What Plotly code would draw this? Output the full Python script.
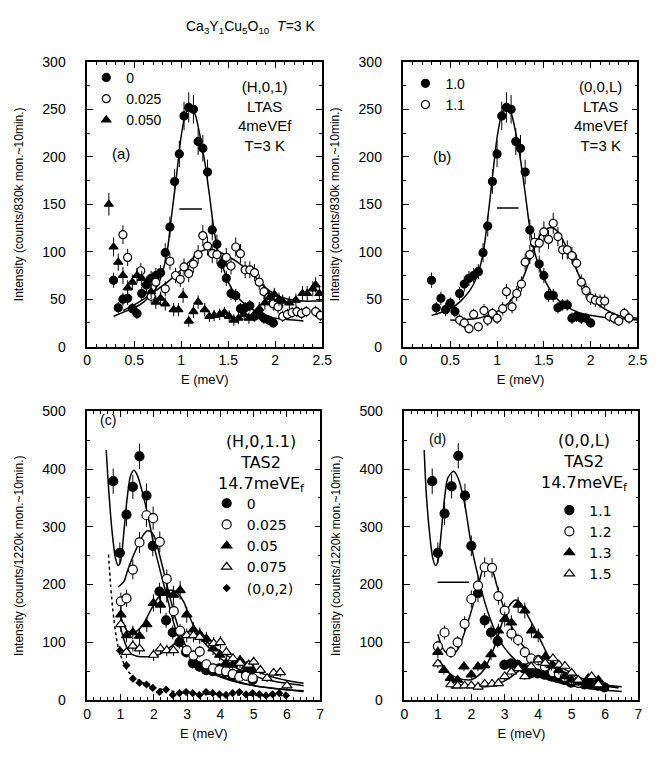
import plotly.graph_objects as go

W, H = 670, 758
F = "Liberation Sans, Arial, sans-serif"
FD = "DejaVu Sans, sans-serif"

def px2x(p): return p / W
def px2y(p): return 1 - p / H

# ---------------- Panel (a): (H,0,1) LTAS ----------------
a0_E = [0.28,0.33,0.38,0.43,0.48,0.53,0.58,0.63,0.68,0.73,0.78,0.83,0.88,0.93,0.98,1.03,1.08,1.13,1.18,1.23,1.28,1.33,1.38,1.43,1.48,1.53,1.58,1.63,1.68,1.73,1.78,1.83,1.88,1.93,1.98]
a0_I = [70,41,50,51,40,35,56,65,72,75,78,99,126,174,203,243,252,250,216,209,184,123,108,87,72,56,54,40,41,43,32,34,30,28,25]
a0_err = [8,6,7,7,6,6,7,8,8,8,8,10,11,13,14,15,16,15,14,14,13,11,10,9,8,7,7,6,6,6,6,6,6,5,5]

a1_E = [0.38,0.43,0.57,0.68,0.73,0.83,0.88,0.94,0.99,1.03,1.08,1.13,1.18,1.23,1.28,1.33,1.38,1.48,1.53,1.58,1.63,1.68,1.73,1.78,1.83,1.88,1.93,1.98,2.03,2.08,2.13,2.18,2.23,2.28,2.33,2.43,2.48]
a1_I = [118,94,80,53,68,61,90,75,71,84,77,87,97,117,106,98,97,94,85,105,98,81,81,78,68,58,52,45,42,32,34,36,37,35,37,37,33]
a1_err = [10,9,8,7,8,8,9,8,8,9,9,9,10,11,10,10,10,10,9,10,10,9,9,9,8,8,7,7,7,6,6,6,6,6,6,6,6]

a2_E = [0.23,0.28,0.33,0.38,0.43,0.48,0.53,0.58,0.63,0.68,0.73,0.78,0.83,0.92,0.97,1.02,1.08,1.13,1.18,1.25,1.3,1.35,1.41,1.46,1.51,1.56,1.61,1.67,1.72,1.77,1.83,1.89,1.94,1.99,2.04,2.08,2.15,2.22,2.29,2.34,2.4,2.43,2.47]
a2_I = [150,105,89,75,62,68,75,72,66,58,47,51,45,39,39,54,27,37,47,39,32,33,34,36,32,28,30,34,30,33,40,46,52,55,50,48,46,49,56,56,61,65,56]
a2_err = [12,10,9,9,8,8,8,8,8,8,7,7,7,7,7,8,6,7,7,7,6,6,6,6,6,6,6,6,6,6,7,7,7,7,7,7,7,7,8,8,8,8,8]

fa0_E = [0.28,0.4,0.5,0.6,0.7,0.75,0.8,0.85,0.9,0.95,1.0,1.05,1.1,1.15,1.2,1.25,1.3,1.35,1.4,1.45,1.5,1.6,1.7,1.8,1.9,2.0,2.1,2.2,2.3]
fa0_I = [32,37,41,47,57,65,78,100,140,180,222,246,253,244,222,195,160,122,97,82,68,52,43,37,33,30,29,28,27]
fa1_E = [0.38,0.5,0.6,0.7,0.8,0.9,1.0,1.1,1.2,1.3,1.4,1.5,1.6,1.7,1.8,1.9,2.0,2.1,2.2,2.3,2.4,2.5]
fa1_I = [38,44,50,57,64,72,81,91,100,103,100,95,89,81,72,62,55,51,49,48,48,48]
resA_E = [0.98, 1.22]
resA_I = [145, 145]

# ---------------- Panel (b): (0,0,L) LTAS ----------------
b0_E = [0.30,0.35,0.40,0.45,0.50,0.55,0.60,0.65,0.70,0.75,0.80,0.85,0.90,0.95,1.00,1.05,1.10,1.15,1.20,1.25,1.30,1.35,1.40,1.45,1.50,1.55,1.60,1.65,1.70,1.75,1.80,1.85,1.90,1.95,2.00]
b0_I = [70,41,51,39,46,37,56,66,72,75,79,99,127,174,203,243,252,250,216,209,184,123,109,87,75,54,54,41,44,44,30,32,30,30,25]
b0_err = [8,6,7,7,6,6,7,8,8,8,8,10,11,13,14,15,16,15,14,14,13,11,10,9,8,7,7,6,6,6,6,6,6,5,5]

b1_E = [0.60,0.65,0.70,0.75,0.80,0.86,0.90,0.95,1.00,1.06,1.10,1.16,1.21,1.26,1.30,1.35,1.40,1.45,1.50,1.55,1.60,1.65,1.70,1.75,1.80,1.85,1.90,1.95,2.00,2.05,2.10,2.15,2.20,2.25,2.30,2.36,2.41]
b1_I = [28,25,19,34,21,38,28,35,30,40,58,42,56,66,89,97,110,109,121,113,130,116,102,102,96,88,68,59,51,49,48,48,32,30,27,35,30]
b1_err = [6,6,5,6,5,7,6,6,6,7,8,7,8,8,9,10,10,10,11,10,11,10,10,10,9,9,8,8,7,7,7,7,6,6,5,6,6]

fb0_E = [0.3,0.4,0.5,0.6,0.7,0.75,0.8,0.85,0.9,0.95,1.0,1.05,1.1,1.15,1.2,1.25,1.3,1.35,1.4,1.45,1.5,1.6,1.7,1.8,1.9,2.0,2.2,2.4,2.5]
fb0_I = [33,36,40,47,58,66,78,98,135,178,220,245,253,246,225,197,162,125,100,84,72,55,45,39,35,33,30,29,28]
fb1_E = [0.5,0.6,0.7,0.8,0.9,1.0,1.1,1.2,1.3,1.35,1.4,1.45,1.5,1.55,1.6,1.65,1.7,1.8,1.9,2.0,2.1,2.2,2.3,2.4,2.5]
fb1_I = [28,28,29,30,33,37,44,56,78,92,106,116,122,125,125,121,113,92,70,53,43,37,33,31,30]
resB_E = [1.0, 1.23]
resB_I = [146, 146]

# ---------------- Panel (c): (H,0,1.1) TAS2 ----------------
c0_E = [0.78,0.98,1.18,1.37,1.57,1.78,1.97,2.17,2.37,2.57,2.77,2.97,3.17,3.37,3.57,3.77,3.97,4.17,4.37,4.57,4.77,4.97]
c0_I = [379,255,321,369,422,354,267,188,138,117,100,83,64,58,52,50,55,48,41,44,46,35]
c0_err = [22,18,20,21,22,21,18,15,13,12,11,10,9,9,8,8,8,8,7,7,7,7]

c1_E = [1.01,1.18,1.37,1.57,1.78,1.98,2.18,2.39,2.6,2.79,2.99,3.19,3.38,3.58,3.78,3.97,4.17,4.37,4.57,4.77,4.97]
c1_I = [171,176,226,273,320,315,274,210,154,120,86,77,84,62,55,52,50,45,40,42,38]
c1_err = [15,15,17,18,20,20,18,16,14,12,10,10,10,9,8,8,8,7,7,7,7]

c2_E = [1.01,1.18,1.37,1.57,1.79,1.99,2.2,2.39,2.59,2.79,2.99,3.19,3.38,3.58,3.78,3.98,4.17,4.37,4.59,4.78,4.97]
c2_I = [148,112,117,111,131,168,165,185,182,190,148,122,114,106,89,78,64,61,69,58,52]
c2_err = [14,12,12,12,13,15,15,16,16,16,14,13,12,12,11,10,9,9,9,8,8]

c3_E = [1.01,1.18,1.37,1.57,1.99,2.2,2.39,2.59,2.99,3.19,3.38,3.8,4.0,4.18,4.38,4.59,4.85,5.0,5.2,5.4,5.6,5.8,6.0]
c3_I = [131,83,94,89,78,89,86,86,112,112,109,98,100,83,72,64,61,66,52,38,47,48,25]
c3_err = [13,10,10,10,10,10,10,10,12,12,12,11,11,10,9,9,9,9,8,7,8,8,7]

c4_E = [0.98,1.18,1.37,1.57,1.78,1.97,2.17,2.37,2.57,2.77,2.97,3.17,3.37,3.57,3.77,3.97,4.17,4.37,4.57,4.77,4.97,5.17,5.37,5.57,5.77,5.97]
c4_I = [86,60,37,30,27,21,14,18,9,12,14,12,9,14,12,10,9,12,14,10,12,10,8,10,12,8]
c4_err = [8,7,6,5,5,5,5,5,5,5,5,5,5,5,5,5,5,5,5,5,5,5,5,5,5,5]

fc0_E = [0.57,0.65,0.75,0.85,0.93,1.0,1.1,1.2,1.3,1.4,1.5,1.6,1.7,1.8,1.9,2.0,2.1,2.2,2.3,2.4,2.5,2.6,2.8,3.0,3.3,3.6,4.0,4.5,5.0,5.5,6.0,6.5]
fc0_I = [433,360,290,245,233,240,290,350,388,398,390,372,350,325,298,268,245,222,200,178,155,133,100,80,62,50,40,31,25,21,18,16]
fc1_E = [0.93,1.1,1.2,1.3,1.4,1.5,1.6,1.7,1.8,1.9,2.0,2.1,2.2,2.3,2.4,2.5,2.6,2.7,2.8,3.0,3.3,3.6,4.0,4.5,5.0,5.5,6.0,6.5]
fc1_I = [196,205,222,238,252,265,277,287,293,292,285,268,245,222,198,175,152,132,115,90,68,54,42,32,25,21,18,15]
fc2_E = [0.98,1.1,1.2,1.37,1.5,1.7,1.9,2.1,2.3,2.5,2.6,2.7,2.9,3.0,3.2,3.4,3.7,4.0,4.2,4.5,5.0,5.5,6.0,6.5]
fc2_I = [148,130,120,117,120,133,155,175,187,190,190,186,170,155,128,108,88,72,65,55,42,34,29,25]
fc3_E = [0.98,1.1,1.2,1.32,1.5,1.8,2.0,2.2,2.5,2.8,3.0,3.2,3.5,3.8,4.2,4.6,5.0,5.5,6.0,6.5]
fc3_I = [131,105,90,80,76,75,76,80,92,105,110,111,104,92,77,64,52,41,34,29]
fc4_E = [0.64,0.7,0.8,0.9,1.0,1.2,1.4,1.6,1.8,2.0,2.3,2.7,3.2,3.8,4.5,5.2,6.0]
fc4_I = [252,200,140,100,78,52,40,32,26,22,18,14,11,10,9,8,8]

# ---------------- Panel (d): (0,0,L) TAS2 ----------------
d0_E = [0.83,1.0,1.2,1.41,1.61,1.81,2.0,2.2,2.4,2.59,2.79,2.99,3.18,3.38,3.57,3.78,3.98,4.18,4.38,4.58,4.78,4.98,5.18,5.38,5.58,5.78,5.98]
d0_I = [379,255,323,370,423,354,267,185,138,117,102,61,63,61,55,46,46,44,41,38,35,30,30,27,28,25,22]
d0_err = [22,18,20,21,22,21,18,15,13,12,11,9,9,9,8,8,8,7,7,7,7,6,6,6,6,6,6]

d1_E = [1.0,1.2,1.39,1.59,1.8,2.0,2.2,2.4,2.62,2.81,3.0,3.2,3.4,3.6,3.79,4.0,4.2,4.44,4.62,4.8,5.0,5.2]
d1_I = [93,117,83,100,132,175,198,230,229,180,155,115,104,83,72,69,58,48,45,40,35,30]
d1_err = [10,12,10,11,13,15,16,17,17,15,14,12,11,10,9,9,8,7,7,7,6,6]

d2_E = [1.0,1.18,1.37,1.59,1.78,2.0,2.2,2.4,2.59,2.81,3.0,3.2,3.4,3.6,3.8,4.0,4.21,4.4,4.62,4.8,5.0,5.2,5.5,5.8]
d2_I = [83,52,38,35,58,44,58,60,79,120,140,134,165,155,120,112,75,60,52,41,35,30,38,35]
d2_err = [10,8,7,7,8,7,8,8,10,12,13,13,14,14,12,12,10,9,8,7,7,6,7,7]

d3_E = [1.0,1.39,1.59,1.8,2.0,2.2,2.4,2.62,2.81,3.0,3.2,3.4,3.6,3.79,4.0,4.21,4.44,4.62,4.8,5.0,5.2,5.6,5.8]
d3_I = [63,27,25,25,25,23,28,28,29,41,49,55,41,58,70,64,72,61,59,47,35,41,27]
d3_err = [8,5,5,5,5,5,5,5,5,6,7,7,6,7,8,8,8,7,7,7,6,6,6]

fd0_E = [0.59,0.65,0.75,0.85,0.93,1.0,1.1,1.2,1.3,1.47,1.6,1.8,2.0,2.2,2.4,2.6,2.8,3.0,3.3,3.6,4.0,4.5,5.0,5.5,6.0,6.5]
fd0_I = [433,360,290,245,233,240,290,350,385,396,385,340,268,215,170,135,108,90,70,55,42,32,25,20,17,15]
fd1_E = [1.0,1.1,1.2,1.39,1.6,1.78,1.9,2.08,2.2,2.37,2.52,2.65,2.76,2.9,3.05,3.2,3.44,3.6,3.83,4.1,4.42,4.7,5.0,5.6,6.0,6.5]
fd1_I = [114,95,85,77,88,114,135,170,195,230,235,222,199,172,148,128,103,90,75,62,52,45,38,30,26,23]
fd2_E = [1.05,1.2,1.39,1.6,1.98,2.2,2.37,2.55,2.76,2.9,3.05,3.2,3.3,3.4,3.54,3.7,3.93,4.1,4.32,4.55,4.8,5.1,5.4,5.8,6.4]
fd2_I = [69,55,44,38,35,42,52,72,103,130,154,168,173,172,162,145,120,100,75,60,46,38,32,26,22]
fd3_E = [1.39,1.8,2.2,2.57,2.8,3.05,3.3,3.54,3.75,3.93,4.1,4.25,4.4,4.6,4.8,5.0,5.3,5.6,6.0,6.4]
fd3_I = [21,22,23,24,28,35,45,57,66,70,72,72,68,60,53,47,38,32,25,21]
resD_E = [0.99, 1.93]
resD_I = [204, 204]

# ---------------- figure ----------------
fig = go.Figure()

def pts(E, I, err, xa, ya, symbol, fill, size, name, legend):
    fig.add_trace(go.Scatter(
        x=E, y=I, mode="markers", xaxis=xa, yaxis=ya, name=name, legend=legend,
        marker=dict(symbol=symbol, size=size, color=fill, line=dict(color="black", width=1.2)),
        error_y=dict(type="data", array=err, visible=True, color="black", thickness=1, width=0)))

def line(E, I, xa, ya, dash="solid", shape="spline"):
    fig.add_trace(go.Scatter(
        x=E, y=I, mode="lines", xaxis=xa, yaxis=ya, showlegend=False, hoverinfo="skip",
        line=dict(color="black", width=1.5, dash=dash, shape=shape, smoothing=0.8)))

line(fa0_E, fa0_I, "x", "y"); line(fa1_E, fa1_I, "x", "y")
line(resA_E, resA_I, "x", "y", shape="linear")
pts(a0_E, a0_I, a0_err, "x", "y", "circle", "black", 8, "0", "legend")
pts(a1_E, a1_I, a1_err, "x", "y", "circle", "white", 8, "0.025", "legend")
pts(a2_E, a2_I, a2_err, "x", "y", "triangle-up", "black", 8, "0.050", "legend")

line(fb0_E, fb0_I, "x2", "y2"); line(fb1_E, fb1_I, "x2", "y2")
line(resB_E, resB_I, "x2", "y2", shape="linear")
pts(b0_E, b0_I, b0_err, "x2", "y2", "circle", "black", 8, "1.0", "legend2")
pts(b1_E, b1_I, b1_err, "x2", "y2", "circle", "white", 8, "1.1", "legend2")

line(fc0_E, fc0_I, "x3", "y3"); line(fc1_E, fc1_I, "x3", "y3")
line(fc2_E, fc2_I, "x3", "y3"); line(fc3_E, fc3_I, "x3", "y3")
line(fc4_E, fc4_I, "x3", "y3", dash="dot")
pts(c0_E, c0_I, c0_err, "x3", "y3", "circle", "black", 9, "0", "legend3")
pts(c1_E, c1_I, c1_err, "x3", "y3", "circle", "white", 9, "0.025", "legend3")
pts(c2_E, c2_I, c2_err, "x3", "y3", "triangle-up", "black", 9, "0.05", "legend3")
pts(c3_E, c3_I, c3_err, "x3", "y3", "triangle-up", "white", 9, "0.075", "legend3")
pts(c4_E, c4_I, c4_err, "x3", "y3", "diamond", "black", 5, "(0,0,2)", "legend3")

line(fd0_E, fd0_I, "x4", "y4"); line(fd1_E, fd1_I, "x4", "y4")
line(fd2_E, fd2_I, "x4", "y4"); line(fd3_E, fd3_I, "x4", "y4")
line(resD_E, resD_I, "x4", "y4", shape="linear")
pts(d0_E, d0_I, d0_err, "x4", "y4", "circle", "black", 9, "1.1", "legend4")
pts(d1_E, d1_I, d1_err, "x4", "y4", "circle", "white", 9, "1.2", "legend4")
pts(d2_E, d2_I, d2_err, "x4", "y4", "triangle-up", "black", 9, "1.3", "legend4")
pts(d3_E, d3_I, d3_err, "x4", "y4", "triangle-up", "white", 9, "1.5", "legend4")

tickfont = dict(family=F, size=14, color="black")
titlefont = dict(family=F, size=13, color="black")

def xax(x0, x1, anchor, rng, dtick, minor):
    return dict(domain=[px2x(x0), px2x(x1)], anchor=anchor, range=rng, dtick=dtick, tick0=0,
                ticks="inside", ticklen=6, tickwidth=1, tickcolor="black",
                showline=True, linecolor="black", linewidth=1.5, mirror="ticks",
                showgrid=False, zeroline=False, tickfont=tickfont,
                minor=dict(dtick=minor, ticks="inside", ticklen=3, tickwidth=1, tickcolor="black", showgrid=False),
                title=dict(text="E (meV)", font=titlefont, standoff=8))

def yax(y0, y1, anchor, rng, dtick, minor, title):
    return dict(domain=[px2y(y1), px2y(y0)], anchor=anchor, range=rng, dtick=dtick, tick0=0,
                ticks="inside", ticklen=6, tickwidth=1, tickcolor="black",
                showline=True, linecolor="black", linewidth=1.5, mirror="ticks",
                showgrid=False, zeroline=False, tickfont=tickfont, ticklabelstandoff=17,
                minor=dict(dtick=minor, ticks="inside", ticklen=3, tickwidth=1, tickcolor="black", showgrid=False),
                title=dict(text=title, font=dict(family=F, size=12, color="black"), standoff=16))

t1 = "Intensity (counts/830k mon.~10min.)"
t2 = "Intensity (counts/1220k mon.~10min.)"

def leg(xp, yp, fam):
    return dict(x=px2x(xp), y=px2y(yp), xanchor="left", yanchor="top", bgcolor="rgba(0,0,0,0)",
                font=dict(family=fam, size=14, color="black"), tracegroupgap=0, itemwidth=30)

def ann(xp, yp, text, size=15, fam=F, align="center", xanchor="center"):
    return dict(x=px2x(xp), y=px2y(yp), xref="paper", yref="paper", text=text, showarrow=False,
                font=dict(family=fam, size=size, color="black"), align=align,
                xanchor=xanchor, yanchor="top")

fig.update_layout(
    width=W, height=H, margin=dict(l=0, r=0, t=0, b=0), autosize=False,
    paper_bgcolor="white", plot_bgcolor="white", font=dict(family=F, color="black"),
    xaxis=xax(85, 325, "y", [0, 2.5], 0.5, 0.1),
    yaxis=yax(55, 346, "x", [0, 300], 50, 25, t1),
    xaxis2=xax(408, 647, "y2", [0, 2.5], 0.5, 0.1),
    yaxis2=yax(55, 346, "x2", [0, 300], 50, 25, t1),
    xaxis3=xax(85, 323, "y3", [0, 7], 1, 0.2),
    yaxis3=yax(412, 707, "x3", [0, 500], 100, 50, t2),
    xaxis4=xax(409, 648, "y4", [0, 7], 1, 0.2),
    yaxis4=yax(412, 707, "x4", [0, 500], 100, 50, t2),
    legend=leg(84, 55, F),
    legend2=leg(410, 61, F),
    legend3=leg(207, 490, FD),
    legend4=leg(557, 497, FD),
    annotations=[
        ann(252, 8, "Ca<sub>3</sub>Y<sub>1</sub>Cu<sub>5</sub>O<sub>10</sub>  <i>T</i>=3 K", size=14),
        ann(267, 69, "(H,0,1)<br>LTAS<br>4meVEf<br>T=3 K", size=15),
        ann(108, 138, "(a)", size=15, xanchor="left"),
        ann(610, 69, "(0,0,L)<br>LTAS<br>4meVEf<br>T=3 K", size=15),
        ann(436, 141, "(b)", size=15, xanchor="left"),
        ann(263, 431, "(H,0,1.1)<br>TAS2<br>14.7meVE<sub>f</sub>", size=16, fam=FD),
        ann(96, 411, "(c)", size=14, xanchor="left"),
        ann(593, 430, "(0,0,L)<br>TAS2<br>14.7meVE<sub>f</sub>", size=16, fam=FD),
        ann(432, 430, "(d)", size=14, xanchor="left"),
    ],
)

fig.write_html("out.html", config={"displayModeBar": False},
               post_script="document.body.style.margin='0';document.body.style.overflow='hidden';")
